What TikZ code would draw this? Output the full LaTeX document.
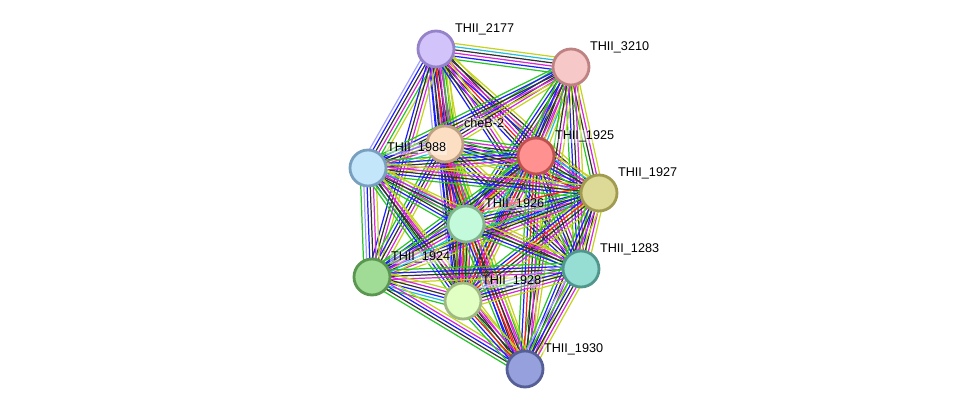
\documentclass[tikz,border=0pt]{standalone}
\usepackage{fontspec}
\setmainfont{Liberation Sans}
\usetikzlibrary{calc,backgrounds}

% evidence colours
\definecolor{nb}{RGB}{40,196,40}
\definecolor{fu}{RGB}{250,30,30}
\definecolor{co}{RGB}{30,30,250}
\definecolor{cx}{RGB}{50,50,50}
\definecolor{ex}{RGB}{215,40,215}
\definecolor{db}{RGB}{35,190,220}
\definecolor{tm}{RGB}{196,212,30}
\definecolor{ho}{RGB}{160,160,255}

\tikzset{
  prot/.style={circle,inner sep=0pt,line width=1.6pt,minimum size=.72cm},
  lbl/.style={anchor=base west,inner sep=0.4pt,font=\fontsize{7.2}{8}\selectfont,
    fill=white,fill opacity=0.4,text opacity=1},
}

% parallel lines between two nodes, one per colour
\newcommand\bundle[3]{%
  \foreach \c [count=\i] in {#3} {\xdef\nlines{\i}}%
  \foreach \c [count=\i] in {#3} {%
    \pgfmathsetmacro\off{(\i-(\nlines+1)/2)*1.8}%
    \draw[\c,line width=.7pt] ($(#1)!\off pt!90:(#2)$) -- ($(#2)!\off pt!-90:(#1)$);
  }}

\begin{document}
\begin{tikzpicture}[x=.02cm,y=-.02cm]
\useasboundingbox (0,0) rectangle (975,415);

\node[prot,draw={rgb,255:red,150;green,130;blue,200},fill={rgb,255:red,210;green,195;blue,250}] (n2177) at (436,49) {};
\node[prot,draw={rgb,255:red,190;green,130;blue,130},fill={rgb,255:red,246;green,200;blue,200}] (n3210) at (571,67) {};
\node[prot,draw={rgb,255:red,190;green,160;blue,130},fill={rgb,255:red,252;green,222;blue,195}] (nCheB) at (445,144) {};
\node[prot,draw={rgb,255:red,190;green,80;blue,80},fill={rgb,255:red,255;green,145;blue,145}] (n1925) at (536,156) {};
\node[prot,draw={rgb,255:red,120;green,160;blue,190},fill={rgb,255:red,195;green,230;blue,250}] (n1988) at (368,168) {};
\node[prot,draw={rgb,255:red,160;green,155;blue,80},fill={rgb,255:red,220;green,218;blue,150}] (n1927) at (599,193) {};
\node[prot,draw={rgb,255:red,130;green,180;blue,140},fill={rgb,255:red,195;green,250;blue,220}] (n1926) at (466,224) {};
\node[prot,draw={rgb,255:red,80;green,150;blue,140},fill={rgb,255:red,150;green,222;blue,212}] (n1283) at (581,269) {};
\node[prot,draw={rgb,255:red,90;green,150;blue,80},fill={rgb,255:red,160;green,220;blue,150}] (n1924) at (372,277) {};
\node[prot,draw={rgb,255:red,160;green,185;blue,130},fill={rgb,255:red,225;green,255;blue,195}] (n1928) at (463,301) {};
\node[prot,draw={rgb,255:red,85;green,95;blue,150},fill={rgb,255:red,150;green,160;blue,220}] (n1930) at (525,369) {};

\begin{pgfonlayer}{background}
\bundle{n2177}{n3210}{nb,co,ex,cx,db,tm}
\bundle{n2177}{nCheB}{ho,co,cx,fu,cx,ex,nb,tm}
\bundle{n2177}{n1988}{ho,co,cx,ex,nb,tm}
\bundle{n2177}{n1925}{co,cx,fu,ex,cx,tm}
\bundle{n2177}{n1926}{ho,co,cx,ex,nb,tm}
\bundle{n2177}{n1927}{co,ex,cx,tm}
\bundle{n2177}{n1928}{co,cx,fu,ex,nb,tm}
\bundle{n2177}{n1924}{co,cx,ex,tm}
\bundle{n2177}{n1283}{co,cx,ex,tm}
\bundle{n3210}{nCheB}{nb,co,cx,ex,tm}
\bundle{n3210}{n1988}{nb,co,cx,ex,tm}
\bundle{n3210}{n1925}{nb,co,cx,ex,db,tm}
\bundle{n3210}{n1927}{nb,cx,ex,tm}
\bundle{n3210}{n1926}{nb,co,cx,ex,tm}
\bundle{n3210}{n1283}{nb,co,cx,ex,tm}
\bundle{n3210}{n1928}{nb,co,cx,ex,tm}
\bundle{n3210}{n1930}{nb,cx,ex,tm}
\bundle{nCheB}{n1925}{tm,db,co,cx,ex,nb}
\bundle{nCheB}{n1988}{nb,co,cx,ex,db,tm}
\bundle{nCheB}{n1927}{tm,db,co,cx,ex,nb}
\bundle{nCheB}{n1926}{co,cx,fu,ex,nb,tm}
\bundle{nCheB}{n1283}{nb,co,cx,ex,tm}
\bundle{nCheB}{n1924}{nb,co,cx,ex,tm}
\bundle{nCheB}{n1928}{ho,co,cx,fu,ex,nb,tm}
\bundle{nCheB}{n1930}{co,cx,fu,ex,nb,tm}
\bundle{n1925}{n1988}{nb,co,cx,ex,tm}
\bundle{n1925}{n1927}{fu,nb,co,cx,ex,db,tm}
\bundle{n1925}{n1926}{nb,co,fu,cx,ex,db,tm}
\bundle{n1925}{n1283}{nb,co,cx,ex,tm}
\bundle{n1925}{n1924}{nb,co,cx,ex,tm}
\bundle{n1925}{n1928}{nb,co,fu,cx,ex,tm}
\bundle{n1925}{n1930}{nb,co,fu,cx,ex,tm}
\bundle{n1988}{n1927}{nb,co,cx,ex,tm}
\bundle{n1988}{n1926}{nb,co,cx,ex,db,tm}
\bundle{n1988}{n1283}{nb,cx,ex,tm}
\bundle{n1988}{n1924}{nb,ho,co,cx,ex,tm}
\bundle{n1988}{n1928}{nb,co,cx,ex,tm}
\bundle{n1988}{n1930}{nb,cx,ex,tm}
\bundle{n1927}{n1926}{fu,nb,co,cx,ex,db,tm}
\bundle{n1927}{n1283}{nb,co,cx,ex,tm}
\bundle{n1927}{n1924}{nb,co,cx,ex,tm}
\bundle{n1927}{n1928}{nb,co,fu,cx,ex,tm}
\bundle{n1927}{n1930}{nb,co,cx,ex,tm}
\bundle{n1926}{n1283}{nb,co,cx,ex,tm}
\bundle{n1926}{n1924}{nb,co,cx,ex,db,tm}
\bundle{n1926}{n1928}{nb,co,fu,cx,ex,tm}
\bundle{n1926}{n1930}{nb,co,fu,cx,ex,tm}
\bundle{n1283}{n1924}{nb,co,cx,ex,tm}
\bundle{n1283}{n1928}{ho,nb,co,cx,ex,tm}
\bundle{n1283}{n1930}{ho,nb,co,cx,ex,tm}
\bundle{n1924}{n1928}{nb,db,co,cx,ex,tm}
\bundle{n1924}{n1930}{nb,cx,co,ex,tm}
\bundle{n1928}{n1930}{nb,co,fu,cx,ex,tm}
\end{pgfonlayer}

% labels
\node[lbl] (l2177) at ($(n2177)+(18,-16)$) {THII\_2177};
\node[lbl] (l3210) at ($(n3210)+(18,-16)$) {THII\_3210};
\node[lbl] (lCheB) at ($(nCheB)+(18,-16)$) {cheB-2};
\node[lbl] (l1925) at ($(n1925)+(18,-16)$) {THII\_1925};
\node[lbl] (l1988) at ($(n1988)+(18,-16)$) {THII\_1988};
\node[lbl] (l1927) at ($(n1927)+(18,-16)$) {THII\_1927};
\node[lbl] (l1926) at ($(n1926)+(18,-16)$) {THII\_1926};
\node[lbl] (l1283) at ($(n1283)+(18,-16)$) {THII\_1283};
\node[lbl] (l1924) at ($(n1924)+(18,-16)$) {THII\_1924};
\node[lbl] (l1928) at ($(n1928)+(18,-16)$) {THII\_1928};
\node[lbl] (l1930) at ($(n1930)+(18,-16)$) {THII\_1930};
\end{tikzpicture}
\end{document}
